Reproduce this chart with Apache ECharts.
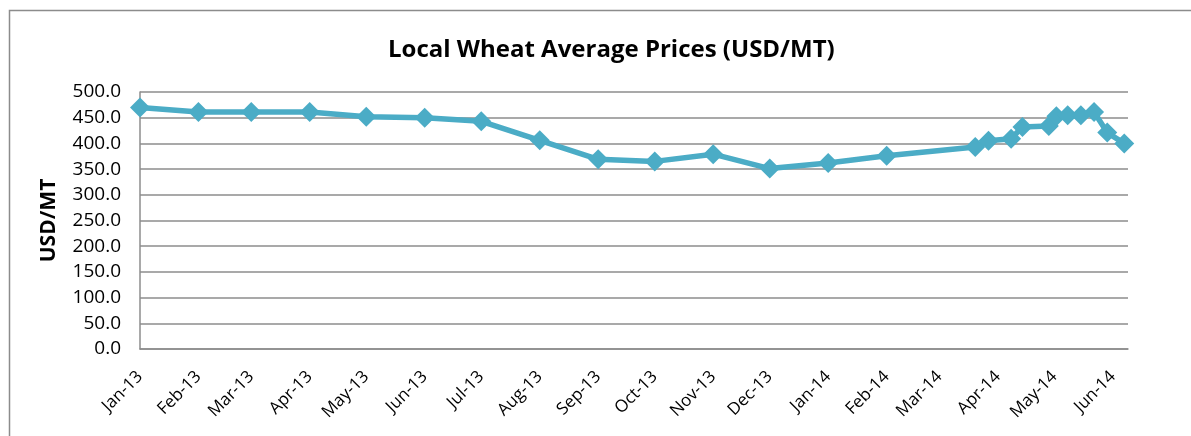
<!DOCTYPE html>
<html>
<head>
<meta charset="utf-8">
<script src="https://cdn.jsdelivr.net/npm/echarts@6/dist/echarts.min.js"></script>
<style>
html,body{margin:0;padding:0;background:#fff;}
#chart{width:1191px;height:436px;}
</style>
</head>
<body>
<div id="chart"></div>
<script>
// Data
var dates = [
  '2013-01-01','2013-02-01','2013-03-01','2013-04-01','2013-05-01','2013-06-01',
  '2013-07-01','2013-08-01','2013-09-01','2013-10-01','2013-11-01','2013-12-01',
  '2014-01-01','2014-02-01','2014-03-20','2014-03-27','2014-04-08','2014-04-14',
  '2014-04-28','2014-05-02','2014-05-08','2014-05-15','2014-05-22','2014-05-29','2014-06-07'
];
var prices = [
  470, 461, 461, 461, 452, 450,
  443, 406, 369, 365, 379, 351,
  362, 376, 393, 405, 409, 432,
  434, 453, 455, 455, 461, 421, 400
];
var tickDates = [
  '2013-01-01','2013-02-01','2013-03-01','2013-04-01','2013-05-01','2013-06-01',
  '2013-07-01','2013-08-01','2013-09-01','2013-10-01','2013-11-01','2013-12-01',
  '2014-01-01','2014-02-01','2014-03-01','2014-04-01','2014-05-01','2014-06-01'
];
var tickLabels = [
  'Jan-13','Feb-13','Mar-13','Apr-13','May-13','Jun-13','Jul-13','Aug-13','Sep-13',
  'Oct-13','Nov-13','Dec-13','Jan-14','Feb-14','Mar-14','Apr-14','May-14','Jun-14'
];
var xMin = '2013-01-01', xMax = '2014-06-09';
var title = 'Local Wheat Average Prices (USD/MT)';
var yName = 'USD/MT';

// day number since 2013-01-01
var DAY = 86400000, BASE = Date.UTC(2013, 0, 1);
function dayNum(s){ var p = s.split('-'); return Math.round((Date.UTC(+p[0], +p[1]-1, +p[2]) - BASE) / DAY); }
var tickDays = tickDates.map(dayNum);
var labelMap = {};
tickDays.forEach(function(t,i){ labelMap[t] = tickLabels[i]; });
var seriesData = dates.map(function(d,i){ return [dayNum(d), prices[i]]; });

var chart = echarts.init(document.getElementById('chart'), null, {renderer:'canvas'});
var font = '"Open Sans", "Noto Sans", sans-serif';
chart.setOption({
  animation: false,
  backgroundColor: '#ffffff',
  title: {
    text: title, left: 383, top: 33,
    textStyle: { fontFamily: font, fontWeight: 'bold', fontSize: 24, color: '#000' }
  },
  graphic: [{
    type: 'rect', shape: { x: 9.5, y: 10.5, width: 1200, height: 440 },
    style: { fill: null, stroke: '#8c8c8c', lineWidth: 1.5 }, silent: true, z: -1
  }],
  grid: { left: 140, right: 63, top: 92, bottom: 87, containLabel: false },
  xAxis: {
    type: 'value',
    min: dayNum(xMin), max: dayNum(xMax),
    axisLine: { show: true, lineStyle: { color: '#8c8c8c', width: 1.5 } },
    axisTick: { show: false },
    splitLine: { show: false },
    axisLabel: {
      customValues: tickDays,
      rotate: 45,
      margin: 25,
      fontFamily: font, fontSize: 17, color: '#000',
      formatter: function(v){ return labelMap[v] || ''; }
    }
  },
  yAxis: {
    type: 'value', min: 0, max: 500, interval: 50,
    name: yName, nameLocation: 'middle', nameGap: 80, nameRotate: 90,
    nameTextStyle: { fontFamily: font, fontWeight: 'bold', fontSize: 21, color: '#000' },
    axisLine: { show: true, lineStyle: { color: '#8c8c8c', width: 1.5 } },
    axisTick: { show: false },
    splitLine: { show: true, lineStyle: { color: '#8c8c8c', width: 1.5 } },
    axisLabel: {
      fontFamily: font, fontSize: 19, color: '#000', margin: 19,
      formatter: function(v){ return v.toFixed(1); }
    }
  },
  series: [{
    type: 'line',
    data: seriesData,
    symbol: 'diamond', symbolSize: 20,
    lineStyle: { color: '#4BACC6', width: 5.5 },
    itemStyle: { color: '#4BACC6' },
    z: 3
  }]
});
</script>
</body>
</html>
